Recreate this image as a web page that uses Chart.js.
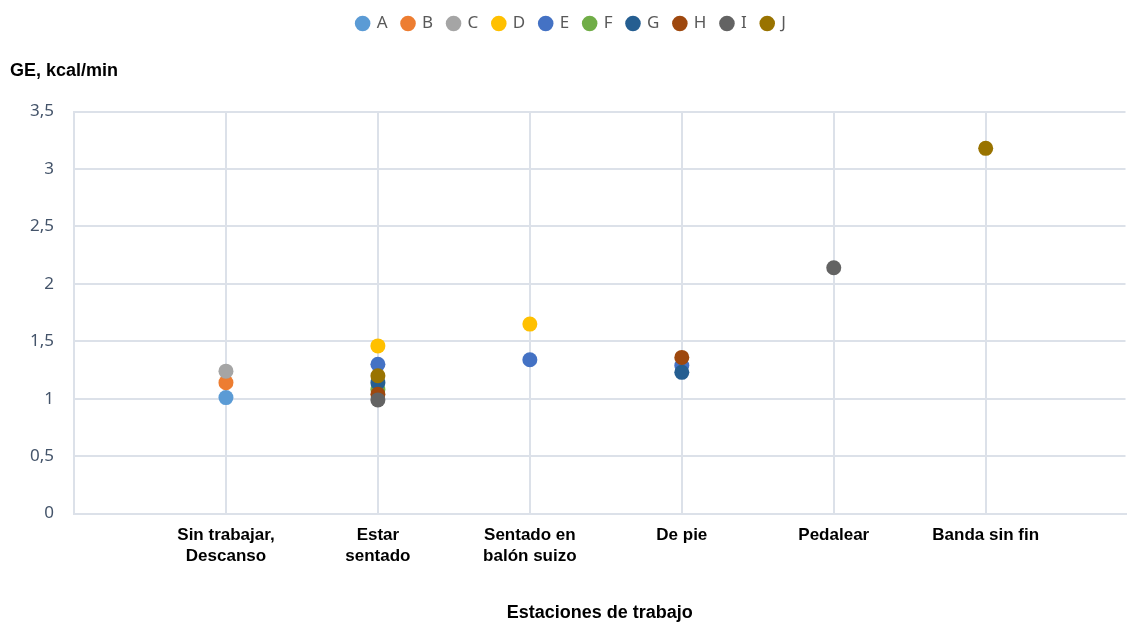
<!DOCTYPE html>
<html>
<head>
<meta charset="utf-8">
<script src="https://cdn.jsdelivr.net/npm/chart.js@4/dist/chart.umd.min.js"></script>
<style>
  html, body { margin: 0; padding: 0; background: #fff; }
  #wrap { width: 1133px; height: 626px; }
</style>
</head>
<body>
<div id="wrap"><canvas id="chart"></canvas></div>
<script>
// estaciones de trabajo (posicion 1..6 en el eje x)
const categories = [
  ['Sin trabajar,', 'Descanso'],
  ['Estar', 'sentado'],
  ['Sentado en', 'balón suizo'],
  ['De pie'],
  ['Pedalear'],
  ['Banda sin fin']
];
const seriesNames = ['A', 'B', 'C', 'D', 'E', 'F', 'G', 'H', 'I', 'J'];
const seriesColors = ['#5B9BD5', '#ED7D31', '#A5A5A5', '#FFC000', '#4472C4',
                      '#70AD47', '#255E91', '#9E480E', '#636363', '#997300'];

// GE, kcal/min por estacion (null = sin dato)
const A = [1.01, null, null, null, null, null];
const B = [1.14, null, null, null, null, null];
const C = [1.24, null, null, null, null, null];
const D = [null, 1.46, 1.65, null, null, null];
const E = [null, 1.30, 1.34, 1.29, null, null];
const F = [null, 1.08, null, null, null, null];
const G = [null, 1.14, null, 1.23, null, null];
const H = [null, 1.04, null, 1.36, null, null];
const I = [null, 0.99, null, null, 2.14, null];
const J = [null, 1.20, null, null, null, 3.18];
const seriesValues = [A, B, C, D, E, F, G, H, I, J];

const yTicks = [0, 0.5, 1, 1.5, 2, 2.5, 3, 3.5];

const datasets = seriesNames.map(function (name, i) {
  const pts = [];
  seriesValues[i].forEach(function (v, k) {
    if (v !== null) pts.push({ x: k + 1, y: v });
  });
  return {
    label: name,
    data: pts,
    order: seriesNames.length - i, // A se dibuja primero, J encima
    backgroundColor: seriesColors[i],
    borderColor: seriesColors[i],
    pointRadius: 7.5,
    pointHoverRadius: 7.5,
    pointBorderWidth: 0
  };
});

const gridColor = '#DCE1E9';

new Chart(document.getElementById('chart'), {
  type: 'scatter',
  data: { datasets: datasets },
  options: {
    responsive: true,
    maintainAspectRatio: false,
    animation: false,
    layout: { padding: { left: 10, right: 0, top: 0, bottom: 2 } },
    plugins: {
      legend: {
        position: 'top',
        weight: 1000,
        labels: {
          usePointStyle: true,
          pointStyle: 'circle',
          boxWidth: 11,
          boxHeight: 11,
          padding: 15,
          color: '#595959',
          font: { family: 'Noto Sans', size: 17 },
          sort: function (a, b) { return a.datasetIndex - b.datasetIndex; }
        }
      },
      title: {
        display: true,
        text: 'GE, kcal/min',
        align: 'start',
        weight: 500,
        color: '#000',
        font: { family: 'Liberation Sans', size: 18, weight: 'bold' },
        padding: { top: 18, bottom: 30 }
      },
      tooltip: { enabled: false }
    },
    scales: {
      x: {
        type: 'linear',
        min: 0,
        max: 6.92,
        afterBuildTicks: function (axis) {
          axis.ticks = [0, 1, 2, 3, 4, 5, 6].map(function (v) { return { value: v }; });
        },
        grid: { color: gridColor, lineWidth: 2, drawTicks: false },
        border: { color: gridColor, width: 2 },
        ticks: {
          color: '#000',
          padding: 12,
          maxRotation: 0,
          autoSkip: false,
          font: { family: 'Liberation Sans', size: 17, weight: 'bold' },
          callback: function (v) {
            return (v >= 1 && v <= categories.length) ? categories[v - 1] : '';
          }
        },
        title: {
          display: true,
          text: 'Estaciones de trabajo',
          color: '#000',
          font: { family: 'Liberation Sans', size: 18, weight: 'bold' },
          padding: { top: 24, bottom: 0 }
        }
      },
      y: {
        min: 0,
        max: 3.5,
        afterBuildTicks: function (axis) {
          axis.ticks = yTicks.map(function (v) { return { value: v }; });
        },
        grid: { color: gridColor, lineWidth: 2, drawTicks: false },
        border: { color: gridColor, width: 2 },
        ticks: {
          color: '#44546A',
          padding: 20,
          font: { family: 'Noto Sans', size: 17 },
          callback: function (v) { return String(v).replace('.', ','); }
        }
      }
    }
  }
});
</script>
</body>
</html>
